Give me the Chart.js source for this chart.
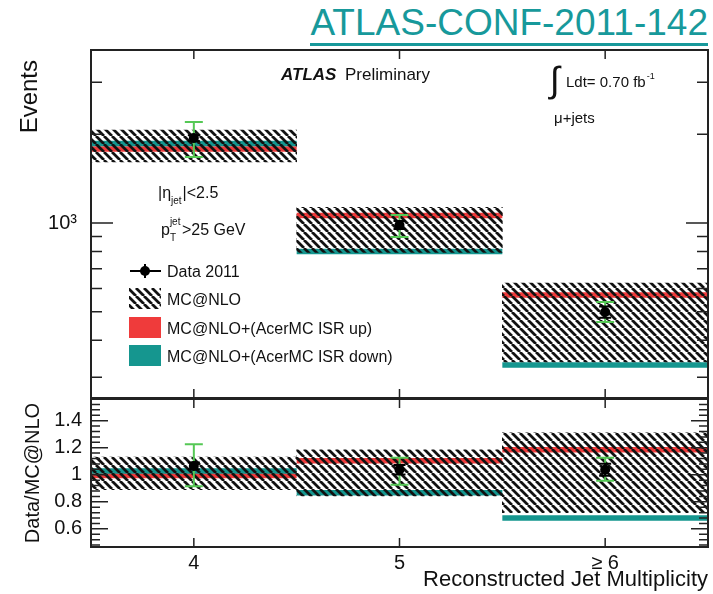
<!DOCTYPE html>
<html>
<head>
<meta charset="utf-8">
<title>Jet multiplicity</title>
<script src="https://cdn.jsdelivr.net/npm/chart.js@4"></script>
<style>
  body { margin: 0; background: #fff; width: 713px; height: 594px; position: relative; overflow: hidden;
         font-family: 'Liberation Sans', Arial, Helvetica, sans-serif; }
  #conf { position: absolute; right: 5px; top: 3px; font-size: 37px; line-height: 40px; color: #17999b;
          border-bottom: 3px solid #17999b; white-space: nowrap; }
  #top { position: absolute; left: 0; top: 0; }
  #ratio { position: absolute; left: 0; top: 377px; }
</style>
</head>
<body>
<div id="conf">ATLAS-CONF-2011-142</div>
<canvas id="top" width="713" height="425"></canvas>
<canvas id="ratio" width="713" height="217"></canvas>
<script>
// jet multiplicity bins
const bins = [4, 5, 6];
const binLabels = ['4', '5', '≥ 6'];
const binEdges = [3.5, 4.5, 5.5, 6.5];

// events per bin
const dataEvents = [1940, 985, 499];
const dataStat = [44, 31, 22];
const dataSystLow = [1675, 897, 462];
const dataSystHigh = [2200, 1064, 540];
const mcnloLow = [1610, 795, 338];
const mcnloHigh = [2065, 1130, 626];
const isrUp = [1782, 1060, 570];
const isrDown = [1860, 800, 330];

// data / MC@NLO
const ratioData = [1.065, 1.037, 1.037];
const ratioStat = [0.025, 0.035, 0.045];
const ratioSystLow = [0.915, 0.926, 0.955];
const ratioSystHigh = [1.225, 1.126, 1.126];
const ratioBandLow = [0.89, 0.844, 0.72];
const ratioBandHigh = [1.13, 1.185, 1.31];
const ratioIsrUp = [0.995, 1.104, 1.185];
const ratioIsrDown = [1.028, 0.867, 0.68];

const FONT = "'Liberation Sans', Arial, Helvetica, sans-serif";
const RED = '#ef3b3b';
const TEAL = '#15968f';
const GREEN = '#55c855';

Chart.defaults.font.family = FONT;
Chart.defaults.color = '#111';

function makeHatch() {
  const size = 8;
  const c = document.createElement('canvas');
  c.width = c.height = size;
  const g = c.getContext('2d');
  g.strokeStyle = '#111';
  g.lineWidth = 2.8;
  g.beginPath();
  for (const k of [-size, 0, size]) {
    g.moveTo(k, 0);
    g.lineTo(k + size, size);
  }
  g.stroke();
  return g.createPattern(c, 'repeat');
}
const hatch = makeHatch();

// horizontal segment per bin, broken between bins
function steps(values) {
  return values.flatMap((v, i) => [
    { x: binEdges[i], y: v },
    { x: binEdges[i + 1], y: v },
    { x: binEdges[i + 1], y: null }
  ]);
}

function points(values) {
  return bins.map((b, i) => ({ x: b, y: values[i] }));
}

function band(lo, hi) {
  return bins.map((b, i) => ({ x: b, y: [lo[i], hi[i]] }));
}

function datasets(vals, lo, hi, up, down) {
  return [
    { type: 'line', label: 'Data 2011', data: points(vals), showLine: false, pointRadius: 5,
      pointBackgroundColor: '#000', pointBorderWidth: 0, order: 0 },
    { type: 'bar', label: 'MC@NLO', data: band(lo, hi), backgroundColor: hatch, borderWidth: 0,
      barPercentage: 1, categoryPercentage: 1, order: 1 },
    { type: 'line', label: 'MC@NLO+(AcerMC ISR up)', data: steps(up), borderColor: RED, backgroundColor: RED,
      borderWidth: 5.5, borderCapStyle: 'butt', pointRadius: 0, spanGaps: false, order: 3 },
    { type: 'line', label: 'MC@NLO+(AcerMC ISR down)', data: steps(down), borderColor: TEAL, backgroundColor: TEAL,
      borderWidth: 5.5, borderCapStyle: 'butt', pointRadius: 0, spanGaps: false, order: 2 }
  ];
}

// stat (black) and total (green) error bars, drawn just under the markers
function errorBars(vals, stat, sysLo, sysHi) {
  return {
    id: 'errorBars',
    beforeDatasetDraw(chart, args) {
      if (args.index !== 0) return;
      const { ctx, scales: { x, y } } = chart;
      const bar = (color, lo, hi, half) => {
        ctx.strokeStyle = color;
        bins.forEach((b, i) => {
          const px = x.getPixelForValue(b);
          const p1 = y.getPixelForValue(lo[i]);
          const p2 = y.getPixelForValue(hi[i]);
          ctx.beginPath();
          ctx.moveTo(px, p1); ctx.lineTo(px, p2);
          ctx.moveTo(px - half, p1); ctx.lineTo(px + half, p1);
          ctx.moveTo(px - half, p2); ctx.lineTo(px + half, p2);
          ctx.stroke();
        });
      };
      ctx.save();
      ctx.lineWidth = 2;
      bar(GREEN, sysLo, sysHi, 9);
      bar('#000', vals.map((v, i) => v - stat[i]), vals.map((v, i) => v + stat[i]), 6);
      ctx.restore();
    }
  };
}

// frame plus inward tick marks on all four sides
function frameTicks(yTicks, majorLen, minorLen) {
  return {
    id: 'frameTicks',
    afterDatasetsDraw(chart) {
      const { ctx, chartArea: a, scales: { x, y } } = chart;
      ctx.save();
      ctx.strokeStyle = '#222';
      ctx.lineWidth = 1.5;
      ctx.beginPath();
      bins.forEach(b => {
        const px = x.getPixelForValue(b);
        ctx.moveTo(px, a.top); ctx.lineTo(px, a.top + 9);
        ctx.moveTo(px, a.bottom); ctx.lineTo(px, a.bottom - 9);
      });
      yTicks(y).forEach(([v, major]) => {
        const py = y.getPixelForValue(v);
        const len = major ? majorLen : minorLen;
        ctx.moveTo(a.left, py); ctx.lineTo(a.left + len, py);
        ctx.moveTo(a.right, py); ctx.lineTo(a.right - len, py);
      });
      ctx.stroke();
      ctx.lineWidth = 2;
      ctx.strokeRect(a.left, a.top, a.right - a.left, a.bottom - a.top);
      ctx.restore();
    }
  };
}

function isNiceLog(v) {
  const m = v / Math.pow(10, Math.floor(Math.log10(v) + 1e-9));
  return Math.abs(m - Math.round(m)) < 1e-6;
}

function text(ctx, str, x, y, size, style) {
  ctx.font = `${style || ''} ${size}px ${FONT}`;
  ctx.fillText(str, x, y);
  return x + ctx.measureText(str).width;
}

// axis title, labels, cuts and legend of the upper pad
const annotations = {
  id: 'annotations',
  afterDraw(chart) {
    const ctx = chart.ctx;
    ctx.save();
    ctx.fillStyle = '#111';

    // y title, rotated, hanging a little below the top of the frame
    ctx.save();
    ctx.translate(37, chart.chartArea.top + 10);
    ctx.rotate(-Math.PI / 2);
    ctx.textAlign = 'right';
    ctx.font = `24px ${FONT}`;
    ctx.fillText('Events', 0, 0);
    ctx.restore();

    ctx.textBaseline = 'alphabetic';
    ctx.textAlign = 'left';

    text(ctx, 'ATLAS', 281, 80, 17, 'italic bold');
    text(ctx, 'Preliminary', 345, 80, 17);

    text(ctx, '∫', 550, 92, 36);
    let x = text(ctx, 'Ldt= 0.70 fb', 566, 87, 15);
    text(ctx, '-1', x + 1, 79, 9);
    text(ctx, 'μ+jets', 554, 123, 15);

    x = text(ctx, '|η', 158, 198, 16);
    x = text(ctx, 'jet', x, 204, 10);
    text(ctx, '|<2.5', x + 1, 198, 16);

    x = text(ctx, 'p', 161, 235, 16);
    text(ctx, 'jet', x, 225, 10);
    text(ctx, 'T', x, 241, 10);
    text(ctx, '>25 GeV', x + 12, 235, 16);

    const ds = chart.data.datasets;
    const lx = 130, lw = 31, tx = 167;
    // data marker
    ctx.strokeStyle = '#000';
    ctx.lineWidth = 2;
    ctx.beginPath();
    ctx.moveTo(lx, 271); ctx.lineTo(lx + lw, 271);
    ctx.moveTo(lx + 15, 264); ctx.lineTo(lx + 15, 278);
    ctx.stroke();
    ctx.beginPath();
    ctx.arc(lx + 15, 271, 5, 0, Math.PI * 2);
    ctx.fillStyle = '#000';
    ctx.fill();
    ctx.fillStyle = '#111';
    text(ctx, ds[0].label, tx, 277, 16);
    // boxes
    const boxes = [[ds[1].backgroundColor, 288, ds[1].label, 305],
                   [ds[2].backgroundColor, 317, ds[2].label, 334],
                   [ds[3].backgroundColor, 345, ds[3].label, 362]];
    boxes.forEach(([fill, by, label, ty]) => {
      ctx.fillStyle = fill;
      ctx.fillRect(lx - 1, by, lw + 1, 21);
      ctx.fillStyle = '#111';
      text(ctx, label, tx, ty, 16);
    });
    ctx.restore();
  }
};

new Chart(document.getElementById('top'), {
  type: 'bar',
  data: { datasets: datasets(dataEvents, mcnloLow, mcnloHigh, isrUp, isrDown) },
  options: {
    responsive: false,
    animation: false,
    layout: { padding: { top: 50, right: 2, bottom: 27, left: 0 } },
    plugins: { legend: { display: false }, tooltip: { enabled: false } },
    scales: {
      x: { type: 'linear', min: 3.5, max: 6.5, offset: false, display: false,
           afterBuildTicks: s => { s.ticks = bins.map(v => ({ value: v })); } },
      y: {
        type: 'logarithmic', min: 255, max: 3860,
        afterBuildTicks: s => { s.ticks = s.ticks.filter(t => isNiceLog(t.value)); },
        afterFit: s => { s.width = 91; },
        grid: { display: false, drawTicks: false },
        border: { display: false },
        ticks: { autoSkip: false, padding: 14, color: '#111', font: { size: 20 },
                 callback: v => (v === 1000 ? '10³' : '') }
      }
    }
  },
  plugins: [
    errorBars(dataEvents, dataStat, dataSystLow, dataSystHigh),
    frameTicks(y => y.ticks.map(t => [t.value, t.value === 1000]), 22, 11),
    annotations
  ]
});

new Chart(document.getElementById('ratio'), {
  type: 'bar',
  data: { datasets: datasets(ratioData, ratioBandLow, ratioBandHigh, ratioIsrUp, ratioIsrDown) },
  options: {
    responsive: false,
    animation: false,
    layout: { padding: { top: 22, right: 2, bottom: 0, left: 0 } },
    plugins: { legend: { display: false }, tooltip: { enabled: false } },
    scales: {
      x: {
        type: 'linear', min: 3.5, max: 6.5, offset: false,
        afterBuildTicks: s => { s.ticks = bins.map(v => ({ value: v })); },
        afterFit: s => { s.height = 47; },
        grid: { display: false, drawTicks: false },
        border: { display: false },
        ticks: { autoSkip: false, maxRotation: 0, padding: 4, color: '#111',
                 font: { size: 20 }, callback: v => binLabels[bins.indexOf(v)] },
        title: { display: true, text: 'Reconstructed Jet Multiplicity', align: 'end', color: '#111',
                 font: { size: 22 }, padding: { top: 0, bottom: 1 } }
      },
      y: {
        type: 'linear', min: 0.466, max: 1.56,
        afterFit: s => { s.width = 91; },
        grid: { display: false, drawTicks: false },
        border: { display: false },
        ticks: { stepSize: 0.2, includeBounds: false, autoSkip: false, padding: 9, color: '#111',
                 font: { size: 20 }, callback: v => String(+v.toFixed(1)) },
        title: { display: true, text: 'Data/MC@NLO', align: 'center', color: '#111', font: { size: 20 },
                 padding: { top: 21, bottom: 0 } }
      }
    }
  },
  plugins: [
    errorBars(ratioData, ratioStat, ratioSystLow, ratioSystHigh),
    frameTicks(y => {
      const out = [];
      for (let k = Math.ceil(y.min / 0.04); k * 0.04 <= y.max; k++) {
        const v = k * 0.04;
        out.push([v, Math.abs(v / 0.2 - Math.round(v / 0.2)) < 1e-6]);
      }
      return out;
    }, 17, 9)
  ]
});
</script>
</body>
</html>
